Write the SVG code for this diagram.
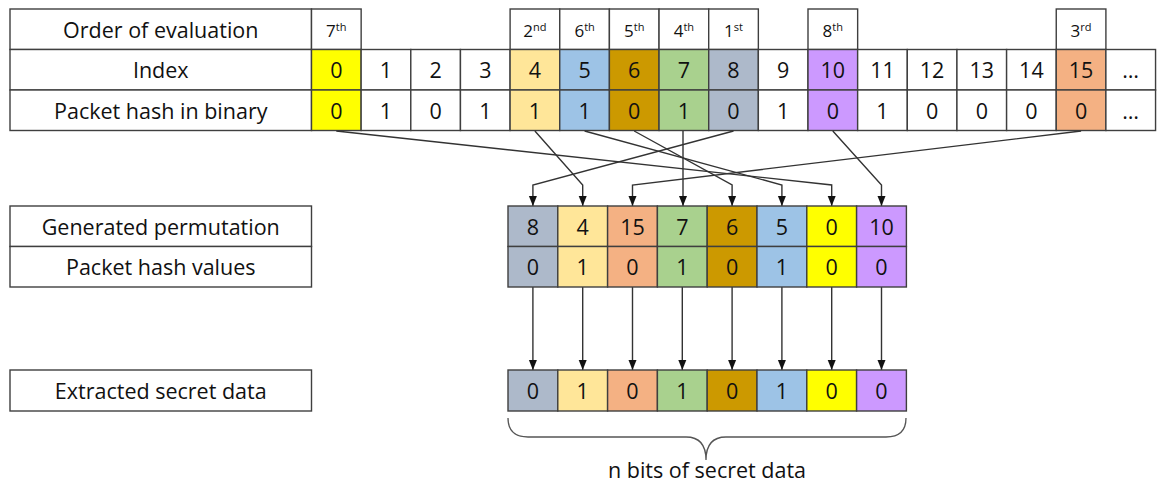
<svg xmlns="http://www.w3.org/2000/svg" width="1157" height="485" viewBox="0 0 1157 485">
<defs>
<style>
.c{stroke:#3f3f3f;stroke-width:1.4;fill:#fff}
.t{font-family:"Open Sans","Noto Sans",sans-serif;font-size:21.5px;fill:#111;text-anchor:middle}
.o{font-family:"Open Sans","Noto Sans",sans-serif;font-size:17px;fill:#111;text-anchor:middle}
.s{font-size:11px}
.ln{fill:none;stroke:#333;stroke-width:1.4}
.y{fill:#FFFF00}.ly{fill:#FFE699}.bl{fill:#9DC3E6}.gd{fill:#CC9900}.gr{fill:#A9D18E}.gy{fill:#ADB9CA}.pu{fill:#CC99FF}.or{fill:#F4B183}
</style>
<marker id="ah" markerUnits="userSpaceOnUse" markerWidth="10" markerHeight="10" viewBox="0 0 10 10" refX="10" refY="5" orient="auto">
<path d="M0,1 L10,5 L0,9 Z" fill="#111"/>
</marker>
</defs>
<rect width="1157" height="485" fill="#fff"/>

<g id="labels">
<g id="lbl-order"><rect class="c" x="10" y="9" width="301.5" height="40.5"/><text class="t" x="160.75" y="37.7">Order of evaluation</text></g>
<g id="lbl-index"><rect class="c" x="10" y="49.5" width="301.5" height="40.5"/><text class="t" x="160.75" y="78.2">Index</text></g>
<g id="lbl-binary"><rect class="c" x="10" y="90" width="301.5" height="40.5"/><text class="t" x="160.75" y="118.7">Packet hash in binary</text></g>
<g id="lbl-perm"><rect class="c" x="10" y="206" width="301.5" height="40.5"/><text class="t" x="160.75" y="234.7">Generated permutation</text></g>
<g id="lbl-hash"><rect class="c" x="10" y="246.5" width="301.5" height="40.5"/><text class="t" x="160.75" y="275.2">Packet hash values</text></g>
<g id="lbl-extract"><rect class="c" x="10" y="370" width="301.5" height="41"/><text class="t" x="160.75" y="399">Extracted secret data</text></g>
</g>

<g id="top-table">
<g id="col0"><rect class="c" x="311.5" y="9" width="49.65" height="40.5"/><text class="o" x="336.3" y="36.5">7<tspan class="s" dy="-6">th</tspan></text>
<rect class="c y" x="311.5" y="49.5" width="49.65" height="40.5"/><text class="t" x="336.3" y="78.2">0</text>
<rect class="c y" x="311.5" y="90" width="49.65" height="40.5"/><text class="t" x="336.3" y="118.7">0</text></g>
<g id="col1"><rect class="c" x="361.15" y="49.5" width="49.65" height="40.5"/><text class="t" x="386" y="78.2">1</text>
<rect class="c" x="361.15" y="90" width="49.65" height="40.5"/><text class="t" x="386" y="118.7">1</text></g>
<g id="col2"><rect class="c" x="410.8" y="49.5" width="49.65" height="40.5"/><text class="t" x="435.6" y="78.2">2</text>
<rect class="c" x="410.8" y="90" width="49.65" height="40.5"/><text class="t" x="435.6" y="118.7">0</text></g>
<g id="col3"><rect class="c" x="460.45" y="49.5" width="49.65" height="40.5"/><text class="t" x="485.3" y="78.2">3</text>
<rect class="c" x="460.45" y="90" width="49.65" height="40.5"/><text class="t" x="485.3" y="118.7">1</text></g>
<g id="col4"><rect class="c" x="510.1" y="9" width="49.65" height="40.5"/><text class="o" x="534.9" y="36.5">2<tspan class="s" dy="-6">nd</tspan></text>
<rect class="c ly" x="510.1" y="49.5" width="49.65" height="40.5"/><text class="t" x="534.9" y="78.2">4</text>
<rect class="c ly" x="510.1" y="90" width="49.65" height="40.5"/><text class="t" x="534.9" y="118.7">1</text></g>
<g id="col5"><rect class="c" x="559.75" y="9" width="49.65" height="40.5"/><text class="o" x="584.6" y="36.5">6<tspan class="s" dy="-6">th</tspan></text>
<rect class="c bl" x="559.75" y="49.5" width="49.65" height="40.5"/><text class="t" x="584.6" y="78.2">5</text>
<rect class="c bl" x="559.75" y="90" width="49.65" height="40.5"/><text class="t" x="584.6" y="118.7">1</text></g>
<g id="col6"><rect class="c" x="609.4" y="9" width="49.65" height="40.5"/><text class="o" x="634.2" y="36.5">5<tspan class="s" dy="-6">th</tspan></text>
<rect class="c gd" x="609.4" y="49.5" width="49.65" height="40.5"/><text class="t" x="634.2" y="78.2">6</text>
<rect class="c gd" x="609.4" y="90" width="49.65" height="40.5"/><text class="t" x="634.2" y="118.7">0</text></g>
<g id="col7"><rect class="c" x="659.05" y="9" width="49.65" height="40.5"/><text class="o" x="683.9" y="36.5">4<tspan class="s" dy="-6">th</tspan></text>
<rect class="c gr" x="659.05" y="49.5" width="49.65" height="40.5"/><text class="t" x="683.9" y="78.2">7</text>
<rect class="c gr" x="659.05" y="90" width="49.65" height="40.5"/><text class="t" x="683.9" y="118.7">1</text></g>
<g id="col8"><rect class="c" x="708.7" y="9" width="49.65" height="40.5"/><text class="o" x="733.5" y="36.5">1<tspan class="s" dy="-6">st</tspan></text>
<rect class="c gy" x="708.7" y="49.5" width="49.65" height="40.5"/><text class="t" x="733.5" y="78.2">8</text>
<rect class="c gy" x="708.7" y="90" width="49.65" height="40.5"/><text class="t" x="733.5" y="118.7">0</text></g>
<g id="col9"><rect class="c" x="758.35" y="49.5" width="49.65" height="40.5"/><text class="t" x="783.2" y="78.2">9</text>
<rect class="c" x="758.35" y="90" width="49.65" height="40.5"/><text class="t" x="783.2" y="118.7">1</text></g>
<g id="col10"><rect class="c" x="808" y="9" width="49.65" height="40.5"/><text class="o" x="832.8" y="36.5">8<tspan class="s" dy="-6">th</tspan></text>
<rect class="c pu" x="808" y="49.5" width="49.65" height="40.5"/><text class="t" x="832.8" y="78.2">10</text>
<rect class="c pu" x="808" y="90" width="49.65" height="40.5"/><text class="t" x="832.8" y="118.7">0</text></g>
<g id="col11"><rect class="c" x="857.65" y="49.5" width="49.65" height="40.5"/><text class="t" x="882.5" y="78.2">11</text>
<rect class="c" x="857.65" y="90" width="49.65" height="40.5"/><text class="t" x="882.5" y="118.7">1</text></g>
<g id="col12"><rect class="c" x="907.3" y="49.5" width="49.65" height="40.5"/><text class="t" x="932.1" y="78.2">12</text>
<rect class="c" x="907.3" y="90" width="49.65" height="40.5"/><text class="t" x="932.1" y="118.7">0</text></g>
<g id="col13"><rect class="c" x="956.95" y="49.5" width="49.65" height="40.5"/><text class="t" x="981.8" y="78.2">13</text>
<rect class="c" x="956.95" y="90" width="49.65" height="40.5"/><text class="t" x="981.8" y="118.7">0</text></g>
<g id="col14"><rect class="c" x="1006.6" y="49.5" width="49.65" height="40.5"/><text class="t" x="1031.4" y="78.2">14</text>
<rect class="c" x="1006.6" y="90" width="49.65" height="40.5"/><text class="t" x="1031.4" y="118.7">0</text></g>
<g id="col15"><rect class="c" x="1056.25" y="9" width="49.65" height="40.5"/><text class="o" x="1081.1" y="36.5">3<tspan class="s" dy="-6">rd</tspan></text>
<rect class="c or" x="1056.25" y="49.5" width="49.65" height="40.5"/><text class="t" x="1081.1" y="78.2">15</text>
<rect class="c or" x="1056.25" y="90" width="49.65" height="40.5"/><text class="t" x="1081.1" y="118.7">0</text></g>
<g id="col16"><rect class="c" x="1105.9" y="49.5" width="49.65" height="40.5"/><text class="t" x="1130.7" y="78.2">…</text>
<rect class="c" x="1105.9" y="90" width="49.65" height="40.5"/><text class="t" x="1130.7" y="118.7">…</text></g>
</g>

<g id="connectors">
<path class="ln" marker-end="url(#ah)" d="M733.5,131 L532.9,185 L532.9,206"/>
<path class="ln" marker-end="url(#ah)" d="M534.9,131 L582.7,185 L582.7,206"/>
<path class="ln" marker-end="url(#ah)" d="M1081.1,131 L632.5,185 L632.5,206"/>
<path class="ln" marker-end="url(#ah)" d="M683,131 L683,206"/>
<path class="ln" marker-end="url(#ah)" d="M634.2,131 L732.1,185 L732.1,206"/>
<path class="ln" marker-end="url(#ah)" d="M584.6,131 L781.9,185 L781.9,206"/>
<path class="ln" marker-end="url(#ah)" d="M336.3,131 L831.7,185 L831.7,206"/>
<path class="ln" marker-end="url(#ah)" d="M832.8,131 L881.5,185 L881.5,206"/>
<path class="ln" marker-end="url(#ah)" d="M532.9,287 V370"/>
<path class="ln" marker-end="url(#ah)" d="M582.7,287 V370"/>
<path class="ln" marker-end="url(#ah)" d="M632.5,287 V370"/>
<path class="ln" marker-end="url(#ah)" d="M682.3,287 V370"/>
<path class="ln" marker-end="url(#ah)" d="M732.1,287 V370"/>
<path class="ln" marker-end="url(#ah)" d="M781.9,287 V370"/>
<path class="ln" marker-end="url(#ah)" d="M831.7,287 V370"/>
<path class="ln" marker-end="url(#ah)" d="M881.5,287 V370"/>
</g>

<g id="permutation">
<g id="p0"><rect class="c gy" x="508" y="206" width="49.8" height="40.5"/><text class="t" x="532.9" y="234.7">8</text><rect class="c gy" x="508" y="246.5" width="49.8" height="40.5"/><text class="t" x="532.9" y="275.2">0</text></g>
<g id="p1"><rect class="c ly" x="557.8" y="206" width="49.8" height="40.5"/><text class="t" x="582.7" y="234.7">4</text><rect class="c ly" x="557.8" y="246.5" width="49.8" height="40.5"/><text class="t" x="582.7" y="275.2">1</text></g>
<g id="p2"><rect class="c or" x="607.6" y="206" width="49.8" height="40.5"/><text class="t" x="632.5" y="234.7">15</text><rect class="c or" x="607.6" y="246.5" width="49.8" height="40.5"/><text class="t" x="632.5" y="275.2">0</text></g>
<g id="p3"><rect class="c gr" x="657.4" y="206" width="49.8" height="40.5"/><text class="t" x="682.3" y="234.7">7</text><rect class="c gr" x="657.4" y="246.5" width="49.8" height="40.5"/><text class="t" x="682.3" y="275.2">1</text></g>
<g id="p4"><rect class="c gd" x="707.2" y="206" width="49.8" height="40.5"/><text class="t" x="732.1" y="234.7">6</text><rect class="c gd" x="707.2" y="246.5" width="49.8" height="40.5"/><text class="t" x="732.1" y="275.2">0</text></g>
<g id="p5"><rect class="c bl" x="757" y="206" width="49.8" height="40.5"/><text class="t" x="781.9" y="234.7">5</text><rect class="c bl" x="757" y="246.5" width="49.8" height="40.5"/><text class="t" x="781.9" y="275.2">1</text></g>
<g id="p6"><rect class="c y" x="806.8" y="206" width="49.8" height="40.5"/><text class="t" x="831.7" y="234.7">0</text><rect class="c y" x="806.8" y="246.5" width="49.8" height="40.5"/><text class="t" x="831.7" y="275.2">0</text></g>
<g id="p7"><rect class="c pu" x="856.6" y="206" width="49.8" height="40.5"/><text class="t" x="881.5" y="234.7">10</text><rect class="c pu" x="856.6" y="246.5" width="49.8" height="40.5"/><text class="t" x="881.5" y="275.2">0</text></g>
</g>

<g id="extracted">
<g id="e0"><rect class="c gy" x="508" y="370" width="49.8" height="41"/><text class="t" x="532.9" y="399">0</text></g>
<g id="e1"><rect class="c ly" x="557.8" y="370" width="49.8" height="41"/><text class="t" x="582.7" y="399">1</text></g>
<g id="e2"><rect class="c or" x="607.6" y="370" width="49.8" height="41"/><text class="t" x="632.5" y="399">0</text></g>
<g id="e3"><rect class="c gr" x="657.4" y="370" width="49.8" height="41"/><text class="t" x="682.3" y="399">1</text></g>
<g id="e4"><rect class="c gd" x="707.2" y="370" width="49.8" height="41"/><text class="t" x="732.1" y="399">0</text></g>
<g id="e5"><rect class="c bl" x="757" y="370" width="49.8" height="41"/><text class="t" x="781.9" y="399">1</text></g>
<g id="e6"><rect class="c y" x="806.8" y="370" width="49.8" height="41"/><text class="t" x="831.7" y="399">0</text></g>
<g id="e7"><rect class="c pu" x="856.6" y="370" width="49.8" height="41"/><text class="t" x="881.5" y="399">0</text></g>
</g>

<g id="brace">
<path fill="none" stroke="#555" stroke-width="1.3" d="M508,418 Q508,437 528,437 L686,437 Q706,437 706,460 Q706,437 726,437 L886,437 Q906,437 906,418"/>
<text class="t" x="707" y="478">n bits of secret data</text>
</g>
</svg>
